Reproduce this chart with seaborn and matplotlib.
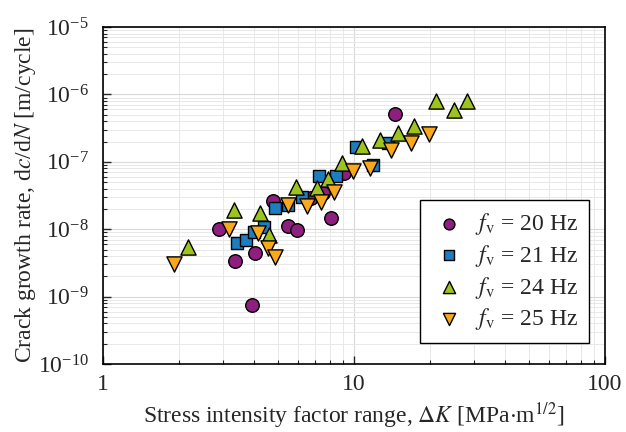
import numpy as np
import pandas as pd
import matplotlib
matplotlib.use("Agg")
import matplotlib.pyplot as plt
import seaborn as sns
from matplotlib.ticker import LogLocator, LogFormatterSciNotation, NullFormatter, FixedLocator, FixedFormatter

sns.set_style("ticks")
plt.rcParams["font.family"] = ["Liberation Serif", "DejaVu Serif"]
plt.rcParams["mathtext.fontset"] = "stix"

# ==================================================
# DATOS
# ==================================================
dk_20 = [2.90, 3.36, 4.03, 3.91, 4.74, 5.44, 5.91, 6.72, 7.50, 8.08, 9.12, 14.5]
rate_20 = [1.0e-8, 3.4e-9, 4.4e-9, 7.4e-10, 2.6e-8, 1.11e-8, 9.7e-9, 2.9e-8, 3.5e-8, 1.45e-8, 6.8e-8, 5.1e-7]

dk_21 = [3.41, 3.70, 4.00, 4.38, 4.84, 5.47, 6.22, 7.27, 8.48, 10.2, 11.9, 13.7]
rate_21 = [6.2e-9, 6.9e-9, 9.2e-9, 1.07e-8, 2.04e-8, 2.3e-8, 3.0e-8, 6.2e-8, 6.2e-8, 1.64e-7, 9.0e-8, 1.92e-7]

dk_24 = [2.19, 3.32, 4.22, 4.60, 5.87, 7.10, 7.90, 8.98, 10.8, 12.7, 15.0, 17.3, 21.2, 25.0, 28.3]
rate_24 = [5.4e-9, 1.93e-8, 1.72e-8, 8.2e-9, 4.2e-8, 4.1e-8, 5.5e-8, 9.5e-8, 1.72e-7, 2.1e-7,
           2.65e-7, 3.4e-7, 8.1e-7, 5.9e-7, 8.1e-7]

dk_25 = [1.91, 3.19, 4.16, 4.56, 4.84, 5.47, 6.48, 7.37, 8.36, 9.88, 11.6, 14.0, 16.8, 19.95]
rate_25 = [3.0e-9, 1.0e-8, 8.9e-9, 5.2e-9, 3.9e-9, 2.3e-8, 2.2e-8, 2.5e-8, 3.6e-8, 7.2e-8, 8.0e-8,
           1.5e-7, 1.92e-7, 2.56e-7]

labels = [r"$f_\mathrm{v}$ = 20 Hz", r"$f_\mathrm{v}$ = 21 Hz",
          r"$f_\mathrm{v}$ = 24 Hz", r"$f_\mathrm{v}$ = 25 Hz"]
colors = ["#8E1F7F", "#1C7DC0", "#9CC31E", "#F7A81B"]
marks = ["o", "s", "^", "v"]
msizes = [95, 80, 120, 120]

# ==================================================
# FIGURA
# ==================================================
fig = plt.figure(figsize=(6.26, 4.32), dpi=100)
ax = fig.add_axes([0.1645, 0.1574, 0.802, 0.78])

ax.set_xscale("log")
ax.set_yscale("log")
ax.set_xlim(1, 100)
ax.set_ylim(1e-10, 1e-5)

ax.grid(True, which="major", color="#d9d9d9", lw=0.8, zorder=0)
ax.grid(True, which="minor", color="#e8e8e8", lw=0.7, zorder=0)
ax.set_axisbelow(True)

for dk, rate, lab, col, mk, sz in zip([dk_20, dk_21, dk_24, dk_25], [rate_20, rate_21, rate_24, rate_25],
                                      labels, colors, marks, msizes):
    d = pd.DataFrame({"dK": dk, "rate": rate})
    sns.scatterplot(data=d, x="dK", y="rate", marker=mk, color=col, s=sz,
                    edgecolor="black", linewidth=1.0, label=lab, ax=ax, zorder=3)

ax.xaxis.set_major_locator(FixedLocator([1, 10, 100]))
ax.xaxis.set_major_formatter(FixedFormatter(["1", "10", "100"]))
ax.xaxis.set_minor_locator(LogLocator(base=10, subs=np.arange(2, 10)))
ax.xaxis.set_minor_formatter(NullFormatter())
ax.yaxis.set_major_locator(LogLocator(base=10, numticks=10))
ax.yaxis.set_major_formatter(LogFormatterSciNotation())
ax.yaxis.set_minor_locator(LogLocator(base=10, subs=np.arange(2, 10), numticks=10))
ax.yaxis.set_minor_formatter(NullFormatter())

ax.tick_params(which="major", direction="in", length=6, width=1, labelsize=17)
ax.tick_params(axis="x", which="major", pad=7)
ax.tick_params(axis="y", which="major", pad=10)
ax.tick_params(which="minor", direction="in", length=3, width=0.8)
for sp in ax.spines.values():
    sp.set_visible(True)
    sp.set_linewidth(1.2)
    sp.set_color("black")

ax.set_xlabel(r"Stress intensity factor range, $\Delta K$ [MPa$\cdot$m$^{1/2}$]", fontsize=17, labelpad=4)
ax.set_ylabel(r"Crack growth rate, d$c$/d$N$ [m/cycle]", fontsize=17, labelpad=0)

leg = ax.legend(loc="lower right", bbox_to_anchor=(0.968, 0.062), borderaxespad=0,
                fontsize=17, frameon=True, fancybox=False, edgecolor="black",
                handletextpad=0.3, labelspacing=0.25, borderpad=0.45, markerscale=0.8,
                handlelength=1.6, framealpha=1)
leg.get_frame().set_linewidth(1.0)
leg.set_zorder(5)

fig.savefig("out.png", dpi=100)
